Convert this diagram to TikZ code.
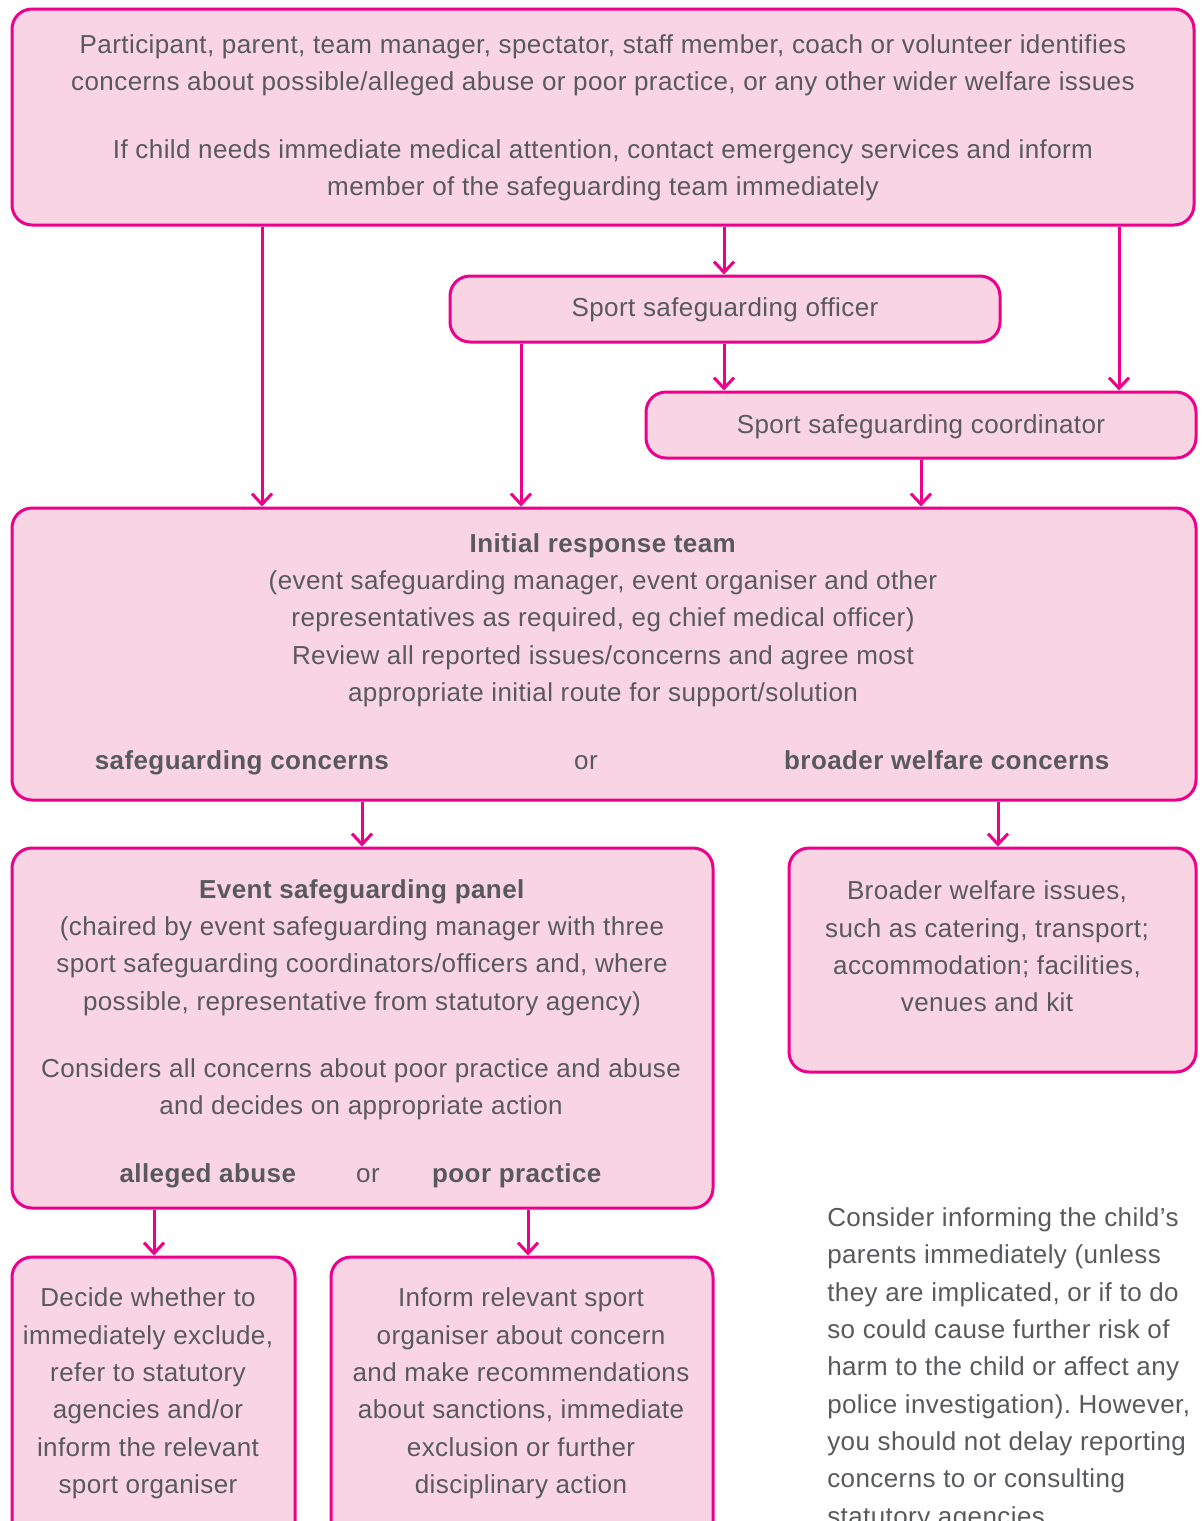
\documentclass[tikz,border=0pt]{standalone}
\usepackage{fontspec}
\setmainfont{Liberation Sans}[LetterSpace=1.6]
\usetikzlibrary{arrows.meta,fit}
\definecolor{mag}{HTML}{EC008C}
\definecolor{pinkfill}{HTML}{F9D4E3}
\definecolor{ink}{HTML}{58595B}
\frenchspacing
\begin{document}
\begin{tikzpicture}[x=0.75pt,y=-0.75pt,
  box/.style={draw=mag, fill=pinkfill, line width=2.25pt, rounded corners=15pt, inner sep=0pt},
  txt/.style={text=ink, font=\fontsize{19.5pt}{28pt}\selectfont, align=center, inner sep=0pt},
  arr/.style={draw=mag, line width=2.25pt, -{Straight Barb[length=8pt,width=15pt]}}]
\path[use as bounding box] (0,0) rectangle (1202,1521);
\clip (0,0) rectangle (1202,1521);

% boxes
\node[box, fit={(12,9) (1194,225)}] (top) {};
\node[box, fit={(450,276) (1000,342)}] (sso) {};
\node[box, fit={(646,392) (1196,458)}] (ssc) {};
\node[box, fit={(12,508) (1196,800)}] (irt) {};
\node[box, fit={(12,848) (713,1208)}] (esp) {};
\node[box, fit={(789,848) (1196,1072)}] (brd) {};
\node[box, fit={(12,1257) (295,1560)}] (dec) {};
\node[box, fit={(331,1257) (713,1560)}] (inf) {};

% texts
\node[txt] (t1) at (603,65) {Participant, parent, team manager, spectator, staff member, coach or volunteer identifies\\concerns about possible/alleged abuse or poor practice, or any other wider welfare issues};
\node[txt] (t2) at (603,170) {If child needs immediate medical attention, contact emergency services and inform\\member of the safeguarding team immediately};
\node[txt, anchor=base] (t3) at (725,316) {Sport safeguarding officer};
\node[txt, anchor=base] (t4) at (921,433) {Sport safeguarding coordinator};
\node[txt] (t5) at (603,620) {\textbf{Initial response team}\\(event safeguarding manager, event organiser and other\\representatives as required, eg chief medical officer)\\Review all reported issues/concerns and agree most\\appropriate initial route for support/solution};
\node[txt, anchor=base] (t6) at (242,769) {\textbf{safeguarding concerns}};
\node[txt, anchor=base] (t7) at (586,769) {or};
\node[txt, anchor=base] (t8) at (947,769) {\textbf{broader welfare concerns}};
\node[txt] (t9) at (362,947.5) {\textbf{Event safeguarding panel}\\(chaired by event safeguarding manager with three\\sport safeguarding coordinators/officers and, where\\possible, representative from statutory agency)};
\node[txt] (t10) at (361,1089.5) {Considers all concerns about poor practice and abuse\\and decides on appropriate action};
\node[txt, anchor=base] (t11) at (208,1182) {\textbf{alleged abuse}};
\node[txt, anchor=base] (t12) at (368,1182) {or};
\node[txt, anchor=base] (t13) at (517,1182) {\textbf{poor practice}};
\node[txt] (t14) at (987,946.5) {Broader welfare issues,\\such as catering, transport;\\accommodation; facilities,\\venues and kit};
\node[txt] (t15) at (148,1393.5) {Decide whether to\\immediately exclude,\\refer to statutory\\agencies and/or\\inform the relevant\\sport organiser};
\node[txt] (t16) at (521,1393.5) {Inform relevant sport\\organiser about concern\\and make recommendations\\about sanctions, immediate\\exclusion or further\\disciplinary action};
\node[txt, align=left, anchor=west] (t17) at (827,1369) {Consider informing the child’s\\parents immediately (unless\\they are implicated, or if to do\\so could cause further risk of\\harm to the child or affect any\\police investigation). However,\\you should not delay reporting\\concerns to or consulting\\statutory agencies.};

% connector columns
\coordinate (c1) at (262,0);
\coordinate (c2) at (724,0);
\coordinate (c3) at (1119,0);
\coordinate (c4) at (521,0);
\coordinate (c5) at (921,0);
\coordinate (c6) at (362,0);
\coordinate (c7) at (998,0);
\coordinate (c8) at (154,0);
\coordinate (c9) at (528,0);

% connectors
\draw[arr] (top.south -| c1) -- (irt.north -| c1);
\draw[arr] (top.south -| c2) -- (sso.north -| c2);
\draw[arr] (top.south -| c3) -- (ssc.north -| c3);
\draw[arr] (sso.south -| c4) -- (irt.north -| c4);
\draw[arr] (sso.south -| c2) -- (ssc.north -| c2);
\draw[arr] (ssc.south -| c5) -- (irt.north -| c5);
\draw[arr] (irt.south -| c6) -- (esp.north -| c6);
\draw[arr] (irt.south -| c7) -- (brd.north -| c7);
\draw[arr] (esp.south -| c8) -- (dec.north -| c8);
\draw[arr] (esp.south -| c9) -- (inf.north -| c9);
\end{tikzpicture}
\end{document}
